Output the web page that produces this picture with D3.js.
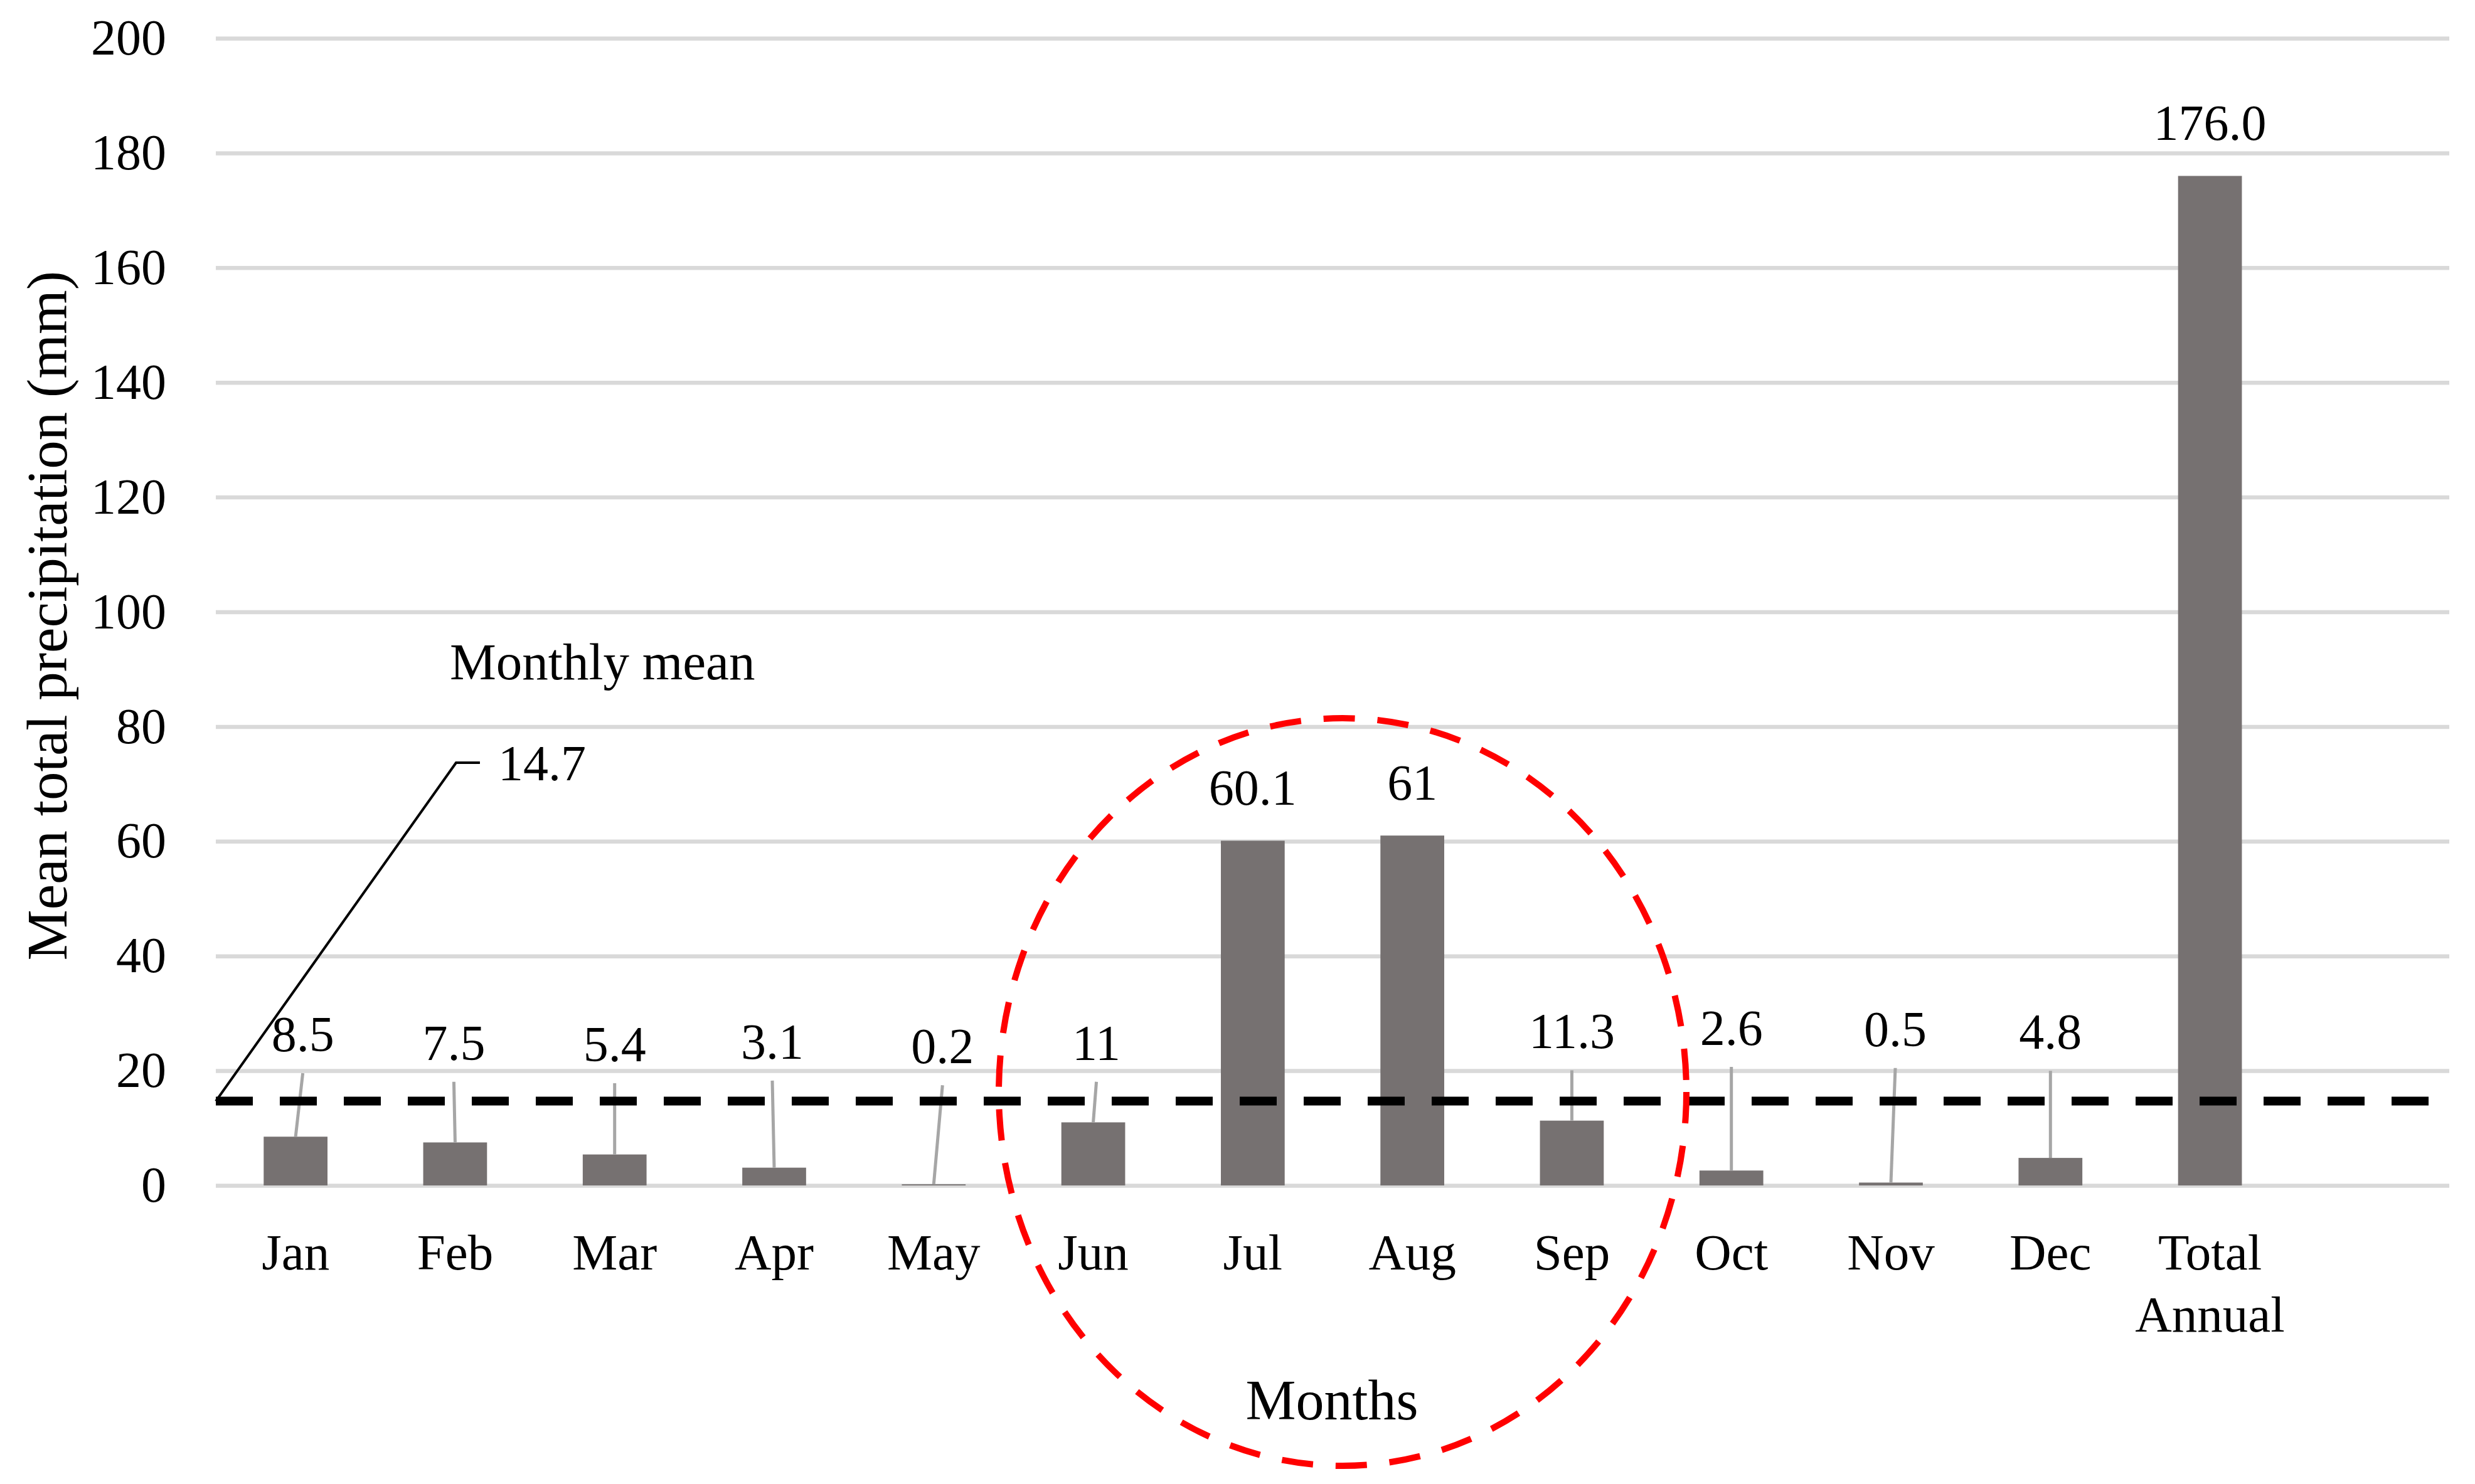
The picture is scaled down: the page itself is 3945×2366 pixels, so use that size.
<!DOCTYPE html>
<html>
<head>
<meta charset="utf-8">
<script src="https://cdn.jsdelivr.net/npm/d3@7"></script>
<style>
  html, body { margin: 0; padding: 0; background: #ffffff; }
  svg { display: block; }
</style>
</head>
<body>
<script>
// ---------------- data ----------------
const categories = ["Jan", "Feb", "Mar", "Apr", "May", "Jun", "Jul", "Aug", "Sep", "Oct", "Nov", "Dec", "Total Annual", ""];
const values = [8.5, 7.5, 5.4, 3.1, 0.2, 11, 60.1, 61, 11.3, 2.6, 0.5, 4.8, 176.0];
const valueLabels = ["8.5", "7.5", "5.4", "3.1", "0.2", "11", "60.1", "61", "11.3", "2.6", "0.5", "4.8", "176.0"];
const monthlyMean = 14.7;
const monthlyMeanLabel = "14.7";
const yTicks = [0, 20, 40, 60, 80, 100, 120, 140, 160, 180, 200];
const yTitle = "Mean total precipitation (mm)";
const xTitle = "Months";
const meanTitle = "Monthly mean";

// ---------------- layout (not data) ----------------
// moved data-label baselines (in value units, null = default above bar) and x nudges (px)
const labelLevel = [23.4, 21.9, 21.65, 22.1, 21.3, 21.9, null, null, 23.9, 24.5, 24.3, 23.8, null];
const labelNudge = [11.5, -2, 0, -3, 14, 5, 0, 0, 0, 0, 7, 0, 0];

const W = 3945, H = 2366;
const plot = { left: 344, right: 3904, top: 61, bottom: 1890 };
const FONT = "'Palatino Linotype', 'Book Antiqua', Palatino, 'Liberation Serif', serif";
const FS = 80;

const svg = d3.select("body").append("svg")
  .attr("width", W).attr("height", H)
  .attr("viewBox", `0 0 ${W} ${H}`)
  .style("font-family", FONT);

svg.append("rect").attr("width", W).attr("height", H).attr("fill", "#ffffff");

const x = d3.scaleBand()
  .domain(categories)
  .range([plot.left, plot.right])
  .paddingInner(0.6)
  .paddingOuter(0.3);

const y = d3.scaleLinear().domain([0, 200]).range([plot.bottom, plot.top]);

// ---------------- y axis + gridlines ----------------
const yAxis = svg.append("g")
  .attr("transform", `translate(${plot.left},0)`)
  .call(d3.axisLeft(y).tickValues(yTicks).tickSizeInner(-(plot.right - plot.left)).tickSizeOuter(0).tickPadding(79));
yAxis.select(".domain").remove();
yAxis.selectAll(".tick line").attr("stroke", "#d9d9d9").attr("stroke-width", 6.5);
yAxis.selectAll(".tick text")
  .attr("fill", "#000000")
  .attr("font-size", FS)
  .attr("font-family", FONT);

// ---------------- bars ----------------
const barData = values.map((v, i) => ({ cat: categories[i], v, label: valueLabels[i], lvl: labelLevel[i], dx: labelNudge[i] }));

svg.append("g").selectAll("rect")
  .data(barData)
  .join("rect")
  .attr("x", d => x(d.cat))
  .attr("width", x.bandwidth())
  .attr("y", d => y(d.v))
  .attr("height", d => y(0) - y(d.v))
  .attr("fill", "#767171");

// ---------------- x axis ----------------
const xAxis = svg.append("g")
  .attr("transform", `translate(0,${plot.bottom})`)
  .call(d3.axisBottom(x).tickSize(0).tickPadding(76));
xAxis.select(".domain").remove();
xAxis.selectAll(".tick text")
  .attr("fill", "#000000")
  .attr("font-size", 81)
  .attr("font-family", FONT)
  .each(function (d) {
    const t = d3.select(this);
    const words = d.split(" ");
    t.text(null);
    words.forEach((w, k) => {
      t.append("tspan").attr("x", 0).attr("dy", k === 0 ? "0.71em" : "1.23em").text(w);
    });
  });

// ---------------- leader lines for moved labels ----------------
const cx = d => x(d.cat) + x.bandwidth() / 2;
const labelBaseline = d => d.lvl == null ? y(d.v) - 57 : y(d.lvl);

svg.append("g").selectAll("line")
  .data(barData.filter(d => d.lvl != null))
  .join("line")
  .attr("x1", d => cx(d) + d.dx)
  .attr("y1", d => labelBaseline(d) + 35)
  .attr("x2", d => cx(d))
  .attr("y2", d => y(d.v))
  .attr("stroke", "#a6a6a6")
  .attr("stroke-width", 5);

// ---------------- monthly mean dashed line ----------------
svg.append("line")
  .attr("x1", plot.left).attr("x2", plot.right)
  .attr("y1", y(monthlyMean)).attr("y2", y(monthlyMean))
  .attr("stroke", "#000000")
  .attr("stroke-width", 14)
  .attr("stroke-dasharray", "59,43");

// mean label leader
const elbowX = plot.left + 1.506 * x.step();
const elbowY = y(73.7);
svg.append("path")
  .attr("d", d3.line()([[plot.left, y(monthlyMean)], [elbowX, elbowY], [elbowX + 38, elbowY]]))
  .attr("fill", "none")
  .attr("stroke", "#000000")
  .attr("stroke-width", 4);

svg.append("text")
  .attr("x", elbowX + 67)
  .attr("y", elbowY)
  .attr("dy", "0.35em")
  .attr("font-size", FS)
  .attr("fill", "#000000")
  .text(monthlyMeanLabel);

svg.append("text")
  .attr("x", plot.left + 1.467 * x.step())
  .attr("y", y(88.2))
  .attr("font-size", 83)
  .attr("fill", "#000000")
  .text(meanTitle);

// ---------------- data labels ----------------
svg.append("g").selectAll("text")
  .data(barData)
  .join("text")
  .attr("x", d => cx(d) + d.dx)
  .attr("y", d => labelBaseline(d))
  .attr("text-anchor", "middle")
  .attr("font-size", FS)
  .attr("fill", "#000000")
  .text(d => d.label);

// ---------------- axis titles ----------------
svg.append("text")
  .attr("transform", `translate(106,${(plot.top + plot.bottom) / 2 + 6}) rotate(-90)`)
  .attr("text-anchor", "middle")
  .attr("font-size", 91)
  .attr("fill", "#000000")
  .text(yTitle);

svg.append("text")
  .attr("x", 2123)
  .attr("y", 2263)
  .attr("text-anchor", "middle")
  .attr("font-size", 90)
  .attr("fill", "#000000")
  .text(xTitle);

// ---------------- red dashed ellipse highlight ----------------
svg.append("ellipse")
  .attr("cx", 2140).attr("cy", 1741)
  .attr("rx", 548).attr("ry", 596)
  .attr("fill", "none")
  .attr("stroke", "#ff0000")
  .attr("stroke-width", 10)
  .attr("stroke-dasharray", "50,36");
</script>
</body>
</html>
